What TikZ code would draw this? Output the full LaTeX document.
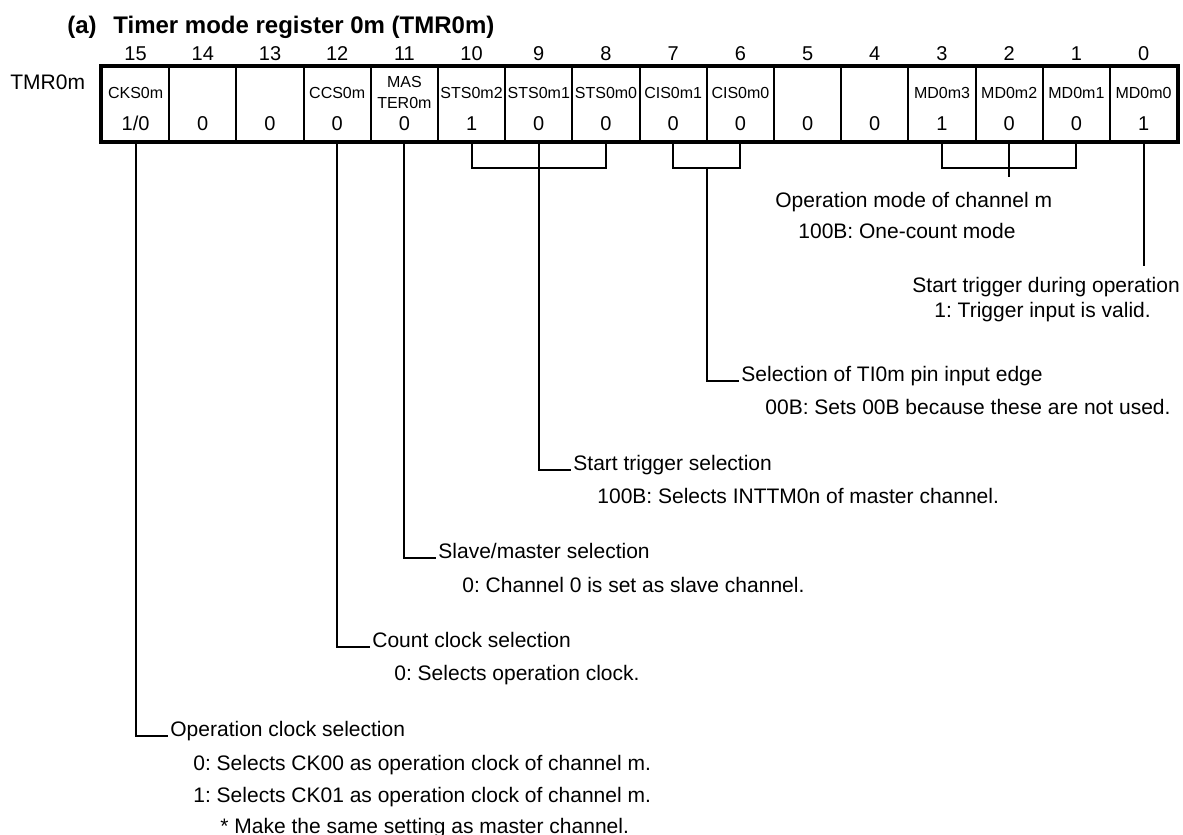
\documentclass[tikz,border=0pt]{standalone}
\usepackage{fontspec}
\setmainfont{Liberation Sans}
\usetikzlibrary{calc}
\frenchspacing
\begin{document}
\begin{tikzpicture}[x=0.5pt,y=-0.5pt,
  cell/.style={draw, line width=1pt, minimum width=33.6pt, minimum height=37pt, inner sep=0pt},
  bitnum/.style={anchor=base, font=\fontsize{10}{12}\selectfont, inner sep=0pt},
  fname/.style={anchor=base, font=\fontsize{8}{9.6}\selectfont, inner sep=0pt},
  fval/.style={anchor=base, font=\fontsize{10}{12}\selectfont, inner sep=0pt},
  lbl/.style={anchor=base west, font=\fontsize{10.5}{12.6}\selectfont, inner xsep=1pt, inner ysep=0pt},
  ttl/.style={anchor=base west, font=\bfseries\fontsize{12}{14}\selectfont, inner sep=0pt},
  conn/.style={line width=1pt}]
\useasboundingbox (0,0) rectangle (1183,835);

% title and register name
\node[ttl] (ta) at (67,33) {(a)};
\node[ttl] (tt) at (113,33) {Timer mode register 0m (TMR0m)};
\node[anchor=base west, font=\fontsize{10.5}{12.6}\selectfont, inner sep=0pt] (reg) at (10,89) {TMR0m};

% cells and bit numbers
\foreach \i in {0,...,15} {
  \pgfmathsetmacro\b{int(15-\i)}
  \node[cell] (c\b) at ({102+67.2*(\i+0.5)},104) {};
  \node[bitnum] (n\b) at ({102+67.2*(\i+0.5)},60) {\b};
}
\draw[line width=1.6pt] (c15.north west) rectangle (c0.south east);

\coordinate (rowname) at (0,98);
\coordinate (rowval) at (0,130);
\coordinate (rowmas) at (0,87);
\coordinate (rowter) at (0,108);
\foreach \b/\t in {15/CKS0m, 12/CCS0m, 10/STS0m2, 9/STS0m1, 8/STS0m0, 7/CIS0m1, 6/CIS0m0, 3/MD0m3, 2/MD0m2, 1/MD0m1, 0/MD0m0}
  \node[fname] (f\b) at (c\b |- rowname) {\t};
\node[fname] (f11a) at (c11 |- rowmas) {MAS};
\node[fname] (f11b) at (c11 |- rowter) {TER0m};
\foreach \b/\v in {15/{1/0}, 14/0, 13/0, 12/0, 11/0, 10/1, 9/0, 8/0, 7/0, 6/0, 5/0, 4/0, 3/1, 2/0, 1/0, 0/1}
  \node[fval] (v\b) at (c\b |- rowval) {\v};

% descriptions
\node[lbl] (h3)  at (773,207) {Operation mode of channel m};
\node[lbl] (h3a) at (796,238) {100B: One-count mode};
\node[lbl] (h0)  at (910,292) {Start trigger during operation};
\node[lbl] (h0a) at (932,317) {1: Trigger input is valid.};
\node[lbl] (h7)  at (739,381) {Selection of TI0m pin input edge};
\node[lbl] (h7a) at (763,414) {00B: Sets 00B because these are not used.};
\node[lbl] (h9)  at (571,470) {Start trigger selection};
\node[lbl] (h9a) at (595,503) {100B: Selects INTTM0n of master channel.};
\node[lbl] (h11)  at (436,558) {Slave/master selection};
\node[lbl] (h11a) at (460,592) {0: Channel 0 is set as slave channel.};
\node[lbl] (h12)  at (370,647) {Count clock selection};
\node[lbl] (h12a) at (392,680) {0: Selects operation clock.};
\node[lbl] (h15)  at (168,736) {Operation clock selection};
\node[lbl] (h15a) at (191,770) {0: Selects CK00 as operation clock of channel m.};
\node[lbl] (h15b) at (191,802) {1: Selects CK01 as operation clock of channel m.};
\node[lbl] (h15c) at (218,833) {* Make the same setting as master channel.};

% connectors
\coordinate (bary) at (0,168);
\coordinate (mdy) at (0,177);
\coordinate (trgy) at (0,266);
\draw[conn] (c15.south) |- (h15.base west);
\draw[conn] (c12.south) |- (h12.base west);
\draw[conn] (c11.south) |- (h11.base west);
\draw[conn] (c10.south) -- (c10 |- bary) -- (c8 |- bary) -- (c8.south);
\draw[conn] (c9.south) |- (h9.base west);
\draw[conn] (c7.south) -- (c7 |- bary) -- (c6 |- bary) -- (c6.south);
\coordinate (cism) at ($(c7 |- bary)!0.5!(c6 |- bary)$);
\draw[conn] (cism) |- (h7.base west);
\draw[conn] (c3.south) -- (c3 |- bary) -- (c1 |- bary) -- (c1.south);
\coordinate (mdend) at (c2 |- mdy);
\draw[conn] (c2.south) -- (mdend);
\coordinate (trgend) at (c0 |- trgy);
\draw[conn] (c0.south) -- (trgend);
\end{tikzpicture}
\end{document}
